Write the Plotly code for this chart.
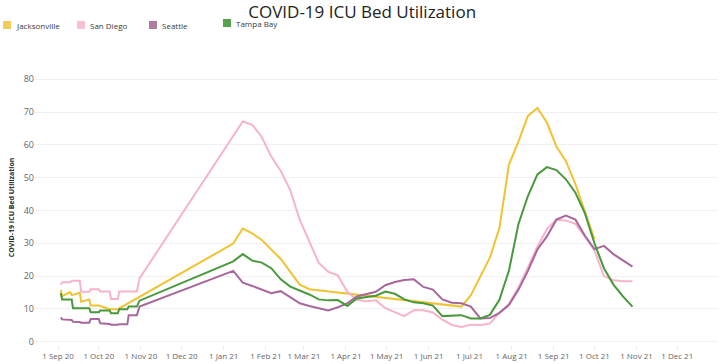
import plotly.graph_objects as go

# ---------------- data ----------------
series_names = ["Jacksonville", "San Diego", "Seattle", "Tampa Bay"]
line_colors = ["#F1C232", "#F7B3CA", "#A8679C", "#48993B"]
legend_colors = ["#F0CB5C", "#F8C0D4", "#B07AA1", "#59A14F"]

# early (Sep-Oct 2020) readings, stepwise daily data
jax_early_dates = ["2020-09-03", "2020-09-04", "2020-09-10", "2020-09-11", "2020-09-17", "2020-09-18",
                   "2020-09-24", "2020-09-25", "2020-10-01", "2020-10-09", "2020-10-15"]
jax_early_vals = [15.8, 13.9, 15.1, 14.2, 14.9, 12.2, 12.9, 11.0, 11.0, 9.9, 9.9]

sd_early_dates = ["2020-09-03", "2020-09-04", "2020-09-10", "2020-09-11", "2020-09-17", "2020-09-18",
                  "2020-09-24", "2020-09-25", "2020-10-01", "2020-10-02", "2020-10-09", "2020-10-10",
                  "2020-10-15", "2020-10-16", "2020-10-29", "2020-10-31"]
sd_early_vals = [17.4, 18.1, 18.1, 18.6, 18.6, 15.2, 15.2, 16.0, 16.0, 15.3, 15.3, 13.0,
                 13.0, 15.3, 15.3, 19.3]

sea_early_dates = ["2020-09-03", "2020-09-04", "2020-09-11", "2020-09-12", "2020-09-17", "2020-09-18",
                   "2020-09-24", "2020-09-25", "2020-10-01", "2020-10-02", "2020-10-09", "2020-10-10",
                   "2020-10-15", "2020-10-16", "2020-10-22", "2020-10-23", "2020-10-29", "2020-10-31"]
sea_early_vals = [7.4, 6.8, 6.6, 6.1, 6.0, 5.8, 5.8, 6.9, 6.9, 5.6, 5.4, 5.2,
                  5.2, 5.3, 5.3, 8.1, 8.1, 10.7]

tb_early_dates = ["2020-09-03", "2020-09-04", "2020-09-11", "2020-09-12", "2020-09-24", "2020-09-25",
                  "2020-10-01", "2020-10-02", "2020-10-09", "2020-10-10", "2020-10-15", "2020-10-16",
                  "2020-10-22", "2020-10-23", "2020-10-29", "2020-10-31"]
tb_early_vals = [14.8, 12.9, 12.9, 10.2, 10.2, 9.0, 9.0, 9.5, 9.5, 8.7, 8.7, 9.9,
                 9.9, 10.7, 10.7, 12.5]

# weekly readings 2021 (Fridays)
week_dates = ["2021-01-08", "2021-01-15", "2021-01-22", "2021-01-29",
              "2021-02-05", "2021-02-12", "2021-02-19", "2021-02-26",
              "2021-03-05", "2021-03-12", "2021-03-19", "2021-03-26",
              "2021-04-02", "2021-04-09", "2021-04-16", "2021-04-23", "2021-04-30",
              "2021-05-07", "2021-05-14", "2021-05-21", "2021-05-28",
              "2021-06-04", "2021-06-11", "2021-06-18", "2021-06-25",
              "2021-07-02", "2021-07-09", "2021-07-16", "2021-07-23", "2021-07-30",
              "2021-08-06", "2021-08-13", "2021-08-20", "2021-08-27",
              "2021-09-03", "2021-09-10", "2021-09-17", "2021-09-24",
              "2021-10-01", "2021-10-08", "2021-10-15", "2021-10-22", "2021-10-29"]

jax_weekly = [29.9, 34.5, 33.0, 31.0, 28.0, 25.2, 21.3, 17.4, 16.0,
              None, None, None, None, None, None, None, None, None, None, None, None, None, None, None,
              10.7, 14.2, 20.0, 25.6, 34.6, 53.9, 61.0, 68.8, 71.2, 66.8, 59.5, 55.0, 48.0, 39.5, 31.3,
              None, None, None, None]

sd_weekly = [None, 67.1, 66.1, 62.4, 56.4, 52.0, 46.2, 37.1, 30.5, 24.0, 21.3, 20.2,
             15.2, 12.8, 12.3, 12.6, 10.2, 8.9, 7.8, 9.6, 9.6, 8.9, 6.7, 5.1, 4.5,
             5.2, 5.1, 5.5, 8.8, 11.5, 16.5, 22.6, 29.0, 34.3, 37.2, 36.9, 35.9, 32.0,
             27.8, 20.0, 18.7, 18.4, 18.4]

sea_weekly = [21.6, 18.0, 17.0, 15.8, 14.8, 15.4, 13.5, 11.7, 10.9, 10.2, 9.5, 10.5,
              11.7, 13.8, 14.5, 15.2, 17.2, 18.2, 18.8, 19.0, 16.7, 15.9, 12.9, 11.9, 11.7,
              10.7, 7.1, 7.2, 8.8, 11.2, 15.8, 21.6, 28.1, 32.1, 37.2, 38.4, 37.2, 32.3,
              28.2, 29.2, 26.7, 24.9, 22.9]

tb_weekly = [24.5, 26.7, 24.7, 24.1, 22.4, 19.0, 16.8, 15.6, 14.4, 12.9, 12.6, 12.7,
             10.9, 13.2, 13.5, 14.0, 15.3, 14.6, 12.9, 12.0, 11.7, 11.0, 7.8, 8.0, 8.1,
             7.1, 7.1, 8.2, 12.8, 21.6, 35.8, 44.4, 51.0, 53.2, 52.3, 49.5, 45.4, 39.1,
             30.0, 22.4, 17.4, 13.8, 10.7]

y_ticks = [0, 10, 20, 30, 40, 50, 60, 70, 80]
title_text = "COVID-19 ICU Bed Utilization"
y_title = "COVID-19 ICU Bed Utilization"

# ---------------- figure ----------------
W, H = 720, 364
M = dict(l=35, r=2, t=70, b=19)
PW = W - M["l"] - M["r"]
PH = H - M["t"] - M["b"]


def px_x(x):
    return (x - M["l"]) / PW


def px_y(y):
    return 1 - (y - M["t"]) / PH


early = [(jax_early_dates, jax_early_vals), (sd_early_dates, sd_early_vals),
         (sea_early_dates, sea_early_vals), (tb_early_dates, tb_early_vals)]
weekly = [jax_weekly, sd_weekly, sea_weekly, tb_weekly]

fig = go.Figure()
for name, col, (ed, ev), wv in zip(series_names, line_colors, early, weekly):
    fig.add_trace(go.Scatter(
        x=ed + week_dates, y=ev + wv, mode="lines", name=name,
        line=dict(color=col, width=2), connectgaps=True, showlegend=False))

# legend (Tableau-style colour swatches)
sw_left = [3, 77, 149, 223]
sw_top = [21, 21, 21, 19]
for i, name in enumerate(series_names):
    x0 = sw_left[i]
    y0 = sw_top[i]
    fig.add_shape(type="rect", xref="paper", yref="paper",
                  x0=px_x(x0), x1=px_x(x0 + 8), y0=px_y(y0 + 8), y1=px_y(y0),
                  fillcolor=legend_colors[i], line=dict(width=0))
    fig.add_annotation(text=name, xref="paper", yref="paper",
                       x=px_x(x0 + 11), y=px_y(y0 + 4), xanchor="left", yanchor="middle",
                       showarrow=False, font=dict(size=8, color="#3a3a3a"))

fig.update_layout(
    width=W, height=H, margin=M,
    paper_bgcolor="white", plot_bgcolor="white",
    font=dict(family="Open Sans", size=9, color="#666"),
    title=dict(text=title_text, x=0.503, xref="container", xanchor="center",
               y=1 - 12 / H, yanchor="middle",
               font=dict(size=17, color="#222")),
    xaxis=dict(range=["2020-08-15", "2021-12-31"], tickformat="%-d %b %y",
               dtick="M1", tick0="2020-09-01", showgrid=False, zeroline=False,
               ticks="outside", ticklen=3, tickcolor="#e6e6e6", automargin=False,
               tickfont=dict(size=8, color="#666"), showline=False),
    yaxis=dict(range=[-1, 82.8], tickvals=y_ticks, showgrid=True, gridcolor="#f0f0f0",
               zeroline=False, tickfont=dict(size=9, color="#666"), automargin=False,
               title=dict(text=y_title, font=dict(size=7, color="#2a2a2a", weight="bold"),
                          standoff=8)),
)

fig.write_html("out.html", config={"displayModeBar": False},
               post_script="document.body.style.margin='0';document.body.style.overflow='hidden';")
